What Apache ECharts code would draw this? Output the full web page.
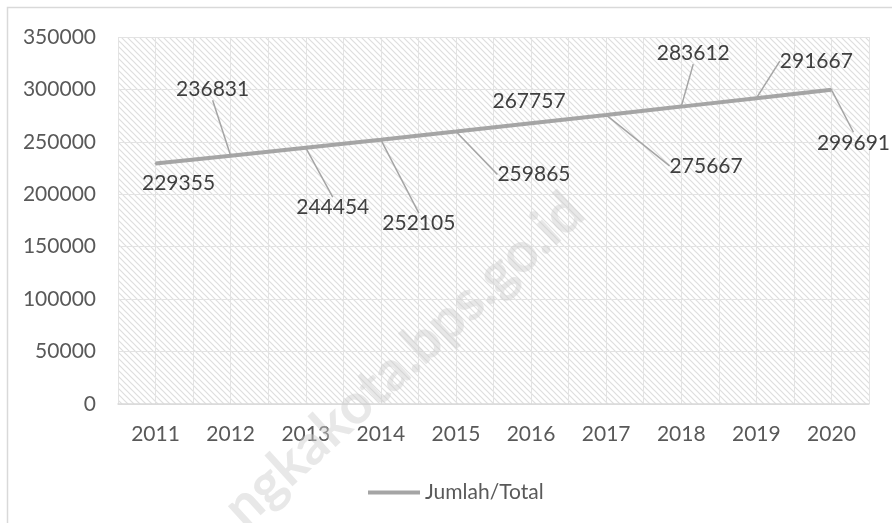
<!DOCTYPE html>
<html>
<head>
<meta charset="utf-8">
<script src="https://cdn.jsdelivr.net/npm/echarts@6/dist/echarts.min.js"></script>
<style>
html, body { margin: 0; padding: 0; background: #fff; }
#main { width: 892px; height: 523px; }
</style>
</head>
<body>
<div id="main"></div>
<script>
var years = ['2011', '2012', '2013', '2014', '2015', '2016', '2017', '2018', '2019', '2020'];
var jumlah = [229355, 236831, 244454, 252105, 259865, 267757, 275667, 283612, 291667, 299691];
var yMin = 0, yMax = 350000, yStep = 50000;

// where each data label sits, relative to its point (layout only)
var labelOffset = [[23, 20], [-18, -66], [27, 60], [38, 84], [78, 43], [-2, -22], [100, 51], [12, -53], [60, -37], [22, 53]];
var noLeader = [0, 5];

var font = 'Lato';
var fs = 21;

// diagonal hatch like the excel plot area fill
function hatch() {
    var c = document.createElement('canvas');
    c.width = 6; c.height = 6;
    var ctx = c.getContext('2d');
    ctx.strokeStyle = '#dedede';
    ctx.lineWidth = 1.2;
    ctx.beginPath();
    ctx.moveTo(-1, -1); ctx.lineTo(7, 7);
    ctx.moveTo(-1, 5); ctx.lineTo(1, 7);
    ctx.moveTo(5, -1); ctx.lineTo(7, 1);
    ctx.stroke();
    return c;
}

var seriesData = jumlah.map(function (v, i) {
    var d = { value: v };
    if (noLeader.indexOf(i) >= 0) d.labelLine = { show: false };
    return d;
});

var myChart = echarts.init(document.getElementById('main'));
var option = {
    animation: false,
    backgroundColor: '#fff',
    textStyle: { fontFamily: font },
    grid: {
        left: 118, right: 23, top: 37, bottom: 119,
        show: true,
        borderWidth: 0,
        backgroundColor: { image: hatch(), repeat: 'repeat' }
    },
    legend: {
        left: 363, top: 477,
        icon: 'rect', itemWidth: 52, itemHeight: 4,
        textStyle: { color: '#595959', fontSize: fs, fontFamily: font },
        data: [{ name: 'Jumlah/Total', itemStyle: { color: '#a5a5a5' } }]
    },
    xAxis: [{
        type: 'category',
        data: years,
        boundaryGap: true,
        axisLine: { lineStyle: { color: '#d9d9d9', width: 1.5 } },
        axisTick: { show: false },
        axisLabel: { color: '#595959', fontSize: fs, margin: 20, fontFamily: font },
        splitLine: { show: false }
    }, {
        // only for the vertical grid lines at every half category
        type: 'value', min: 0, max: 20, interval: 1,
        position: 'bottom',
        axisLine: { show: false }, axisTick: { show: false }, axisLabel: { show: false },
        splitLine: { show: true, lineStyle: { color: '#e3e3e3', width: 1 } }
    }],
    yAxis: {
        type: 'value',
        min: yMin, max: yMax, interval: yStep,
        axisLine: { show: false },
        axisTick: { show: false },
        axisLabel: {
            color: '#595959', fontSize: fs, margin: 22, fontFamily: font,
            formatter: function (v) { return String(v); }
        },
        splitLine: { lineStyle: { color: '#e3e3e3', width: 1 } }
    },
    series: [{
        name: 'Jumlah/Total',
        type: 'line',
        data: seriesData,
        symbol: 'circle',
        symbolSize: 2,
        showSymbol: true,
        lineStyle: { color: '#a5a5a5', width: 4 },
        itemStyle: { color: '#a5a5a5' },
        label: { show: true, position: 'inside', color: '#404040', fontSize: fs, fontFamily: font },
        labelLine: { show: true, lineStyle: { color: '#a5a5a5', width: 1.5 } },
        labelLayout: function (p) {
            var o = labelOffset[p.dataIndex];
            return {
                x: p.rect.x + p.rect.width / 2 + o[0],
                y: p.rect.y + p.rect.height / 2 + o[1],
                align: 'center',
                verticalAlign: 'middle'
            };
        },
        emphasis: { disabled: true }
    }],
    graphic: [{
        type: 'rect',
        shape: { x: 7.5, y: 7.5, width: 900, height: 600 },
        style: { fill: 'none', stroke: '#d9d9d9', lineWidth: 1.5 },
        silent: true
    }, {
        type: 'text',
        x: 404, y: 360,
        rotation: 0.74,
        z: 100,
        silent: true,
        style: {
            text: 'ngkakota.bps.go.id',
            fill: 'rgba(205,205,205,0.45)',
            font: 'bold 56px ' + font,
            align: 'center',
            verticalAlign: 'middle'
        }
    }]
};
myChart.setOption(option);
</script>
</body>
</html>
